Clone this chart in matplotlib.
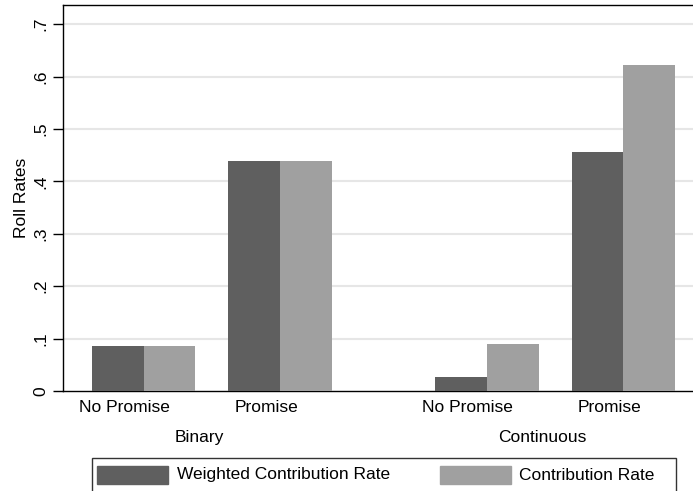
import matplotlib
matplotlib.use("Agg")
import matplotlib.pyplot as plt
from matplotlib.patches import Rectangle

plt.rcParams["font.family"] = ["Liberation Sans", "DejaVu Sans"]

groups = ["Binary", "Continuous"]
categories = ["No Promise", "Promise"]
series_names = ["Weighted Contribution Rate", "Contribution Rate"]
weighted_rate = [0.086, 0.439, 0.027, 0.456]
contribution_rate = [0.086, 0.439, 0.090, 0.622]
yticks = [0, 0.1, 0.2, 0.3, 0.4, 0.5, 0.6, 0.7]
ytick_labels = ["0", ".1", ".2", ".3", ".4", ".5", ".6", ".7"]

colors = ["#5f5f5f", "#a0a0a0"]
grid_color = "#e6e6e6"

W, H = 693, 491


def fx(px):
    return px / W


def fy(py):
    return 1 - py / H


fig = plt.figure(figsize=(W / 100, H / 100), dpi=100)
fig.patch.set_facecolor("white")
# plot region runs a little past the right edge of the image, like the source
ax = fig.add_axes([fx(63), fy(391), fx(704) - fx(63), fy(5) - fy(391)])

# layout in bar-width units: outer gap, gap inside a group, gap between groups
outer_gap, inner_gap, group_gap = 0.56, 0.64, 2.0
centers = []
x = outer_gap
for g in range(len(groups)):
    for c in range(len(categories)):
        centers.append(x + 1.0)
        x += 2.0 + (inner_gap if c < len(categories) - 1 else 0)
    x += group_gap
x_right = x - group_gap + outer_gap

for i, cx in enumerate(centers):
    ax.bar(cx - 0.5, weighted_rate[i], width=1.0, color=colors[0], zorder=3)
    ax.bar(cx + 0.5, contribution_rate[i], width=1.0, color=colors[1], zorder=3)

ax.set_xlim(0, x_right)
ax.set_ylim(0, 0.7366)
ax.set_yticks(yticks)
ax.set_yticklabels(ytick_labels, rotation=90, va="center", fontsize=12.5)
ax.tick_params(axis="y", length=7, width=1, pad=3.5)
ax.set_xticks([])
for y in yticks[1:]:
    ax.axhline(y, color=grid_color, lw=1.5, zorder=1)
for s in ax.spines.values():
    s.set_color("black")
    s.set_linewidth(1.0)
ax.spines["right"].set_visible(False)
ax.set_ylabel("Roll Rates", fontsize=12.5, labelpad=3)

# category labels sit a little left of the bar pairs, as in Stata output
label_shift = {"No Promise": -0.38, "Promise": -0.26}
for i, cx in enumerate(centers):
    name = categories[i % len(categories)]
    ax.text(cx + label_shift[name], -0.031, name, ha="center", va="center",
            fontsize=12.5, transform=ax.transData, clip_on=False)
for g, name in enumerate(groups):
    gx = (centers[2 * g] + centers[2 * g + 1]) / 2 - 0.24
    ax.text(gx, -0.088, name, ha="center", va="center", fontsize=12.5,
            transform=ax.transData, clip_on=False)

# legend box
fig.patches.append(Rectangle((fx(92), fy(494)), fx(676) - fx(92), fy(458) - fy(494),
                             transform=fig.transFigure, fill=False, ec="#333333", lw=1.0))
swatch_x = [97, 440]
text_x = [177, 519]
for i, name in enumerate(series_names):
    fig.patches.append(Rectangle((fx(swatch_x[i]), fy(484)), fx(71), fy(466) - fy(484),
                                 transform=fig.transFigure, color=colors[i]))
    fig.text(fx(text_x[i]), fy(475), name, ha="left", va="center", fontsize=12.5)

fig.savefig("out.png", dpi=100, facecolor="white")
